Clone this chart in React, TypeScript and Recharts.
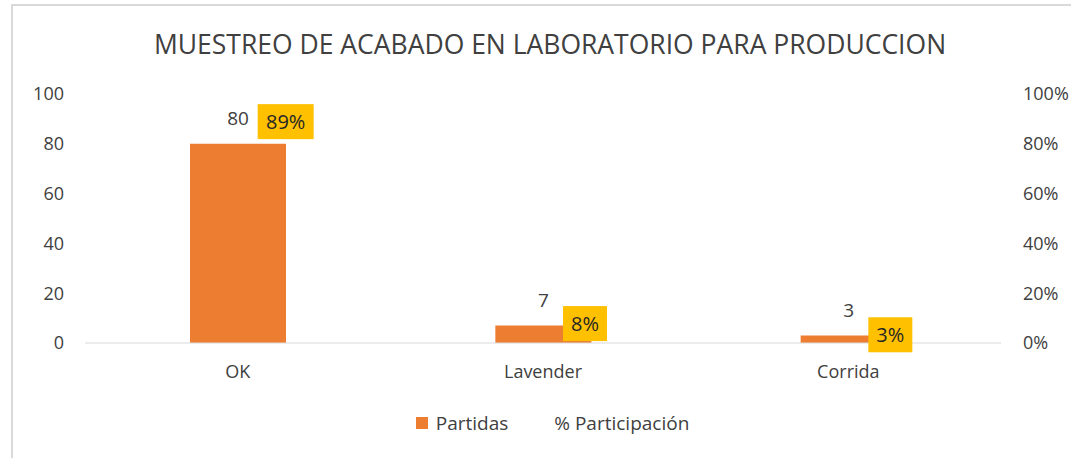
import { ComposedChart, Bar, Line, XAxis, YAxis, LabelList, Legend } from 'recharts';

const categories = ['OK', 'Lavender', 'Corrida'];
const partidas = [80, 7, 3];
const participacion = [0.889, 0.078, 0.033];
const leftTicks = [0, 20, 40, 60, 80, 100];
const rightTicks = [0, 0.2, 0.4, 0.6, 0.8, 1];

const data = categories.map((name, i) => ({
    name,
    partidas: partidas[i],
    participacion: participacion[i],
}));

const FONT = '"Open Sans", sans-serif';

const PctLabel = (props: any) => {
    const { x, y, value } = props;
    if (x == null || y == null) return null;
    const text = `${Math.round(value * 100)}%`;
    const w = text.length * 12 + 20;
    const h = 35;
    const left = x + 20;
    return (
        <g>
            <rect x={left} y={y - h / 2} width={w} height={h} fill="#FFC000" />
            <text
                x={left + w / 2}
                y={y + 7}
                textAnchor="middle"
                fontSize={20}
                fontFamily={FONT}
                fill="#262626"
            >
                {text}
            </text>
        </g>
    );
};

const ChartLegend = () => (
    <div
        style={{
            height: 50,
            paddingTop: 3,
            boxSizing: 'border-box',
            display: 'flex',
            justifyContent: 'center',
            alignItems: 'flex-start',
            paddingLeft: 34,
            fontFamily: FONT,
            fontSize: 19,
            color: '#404040',
        }}
    >
        <div style={{ display: 'flex', alignItems: 'center', height: 24 }}>
            <span style={{ display: 'inline-block', width: 12, height: 12, background: '#ED7D31', marginRight: 8 }} />
            <span>Partidas</span>
        </div>
        <div style={{ display: 'flex', alignItems: 'center', height: 24, marginLeft: 46 }}>
            <span>% Participación</span>
        </div>
    </div>
);

export default function App() {
    return (
        <div style={{ position: 'absolute', left: 0, top: 0, width: 1071, height: 458, background: '#fff', overflow: 'hidden' }}>
            <div
                style={{
                    position: 'absolute',
                    left: 11,
                    top: 4,
                    width: 1080,
                    height: 470,
                    borderTop: '2px solid #d9d9d9',
                    borderLeft: '2px solid #d9d9d9',
                }}
            />
            <div
                style={{
                    position: 'absolute',
                    left: 0,
                    top: 26,
                    width: 1100,
                    textAlign: 'center',
                    fontFamily: FONT,
                    fontSize: 26.5,
                    color: '#404040',
                    whiteSpace: 'nowrap',
                }}
            >
                MUESTREO DE ACABADO EN LABORATORIO PARA PRODUCCION
            </div>
            <div style={{ position: 'absolute', left: 0, top: 0 }}>
                <ComposedChart
                    width={1071}
                    height={458}
                    data={data}
                    margin={{ top: 94, right: 0, bottom: 0, left: 0 }}
                >
                    <XAxis
                        dataKey="name"
                        height={65}
                        axisLine={{ stroke: '#d9d9d9' }}
                        tickLine={false}
                        tickMargin={16}
                        tick={{ fill: '#404040', fontSize: 18, fontFamily: FONT }}
                    />
                    <YAxis
                        yAxisId="left"
                        width={85}
                        domain={[0, 100]}
                        ticks={leftTicks}
                        axisLine={false}
                        tickLine={false}
                        tickMargin={15}
                        tick={{ fill: '#404040', fontSize: 18, fontFamily: FONT }}
                    />
                    <YAxis
                        yAxisId="right"
                        orientation="right"
                        width={70}
                        domain={[0, 1]}
                        ticks={rightTicks}
                        axisLine={false}
                        tickLine={false}
                        tickMargin={16}
                        tickFormatter={(v) => `${Math.round(v * 100)}%`}
                        tick={{ fill: '#404040', fontSize: 18, fontFamily: FONT, textAnchor: 'start' }}
                    />
                    <Legend verticalAlign="bottom" content={<ChartLegend />} />
                    <Bar
                        yAxisId="left"
                        dataKey="partidas"
                        name="Partidas"
                        fill="#ED7D31"
                        barSize={96}
                        isAnimationActive={false}
                    >
                        <LabelList
                            dataKey="partidas"
                            position="top"
                            offset={19}
                            fill="#404040"
                            fontSize={19}
                            fontFamily={FONT}
                        />
                    </Bar>
                    <Line
                        yAxisId="right"
                        dataKey="participacion"
                        name="% Participación"
                        stroke="none"
                        dot={false}
                        activeDot={false}
                        legendType="none"
                        isAnimationActive={false}
                    >
                        <LabelList dataKey="participacion" content={<PctLabel />} />
                    </Line>
                </ComposedChart>
            </div>
        </div>
    );
}
